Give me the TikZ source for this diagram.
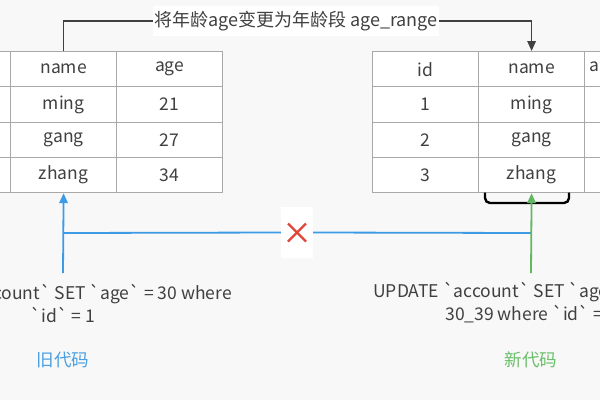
\documentclass[tikz,border=0pt]{standalone}
\usepackage{fontspec}
\setmainfont{Noto Sans CJK SC}[Ligatures=TeXOff]
\usetikzlibrary{arrows.meta}
\definecolor{bgc}{HTML}{F8F8F8}
\definecolor{cellgray}{HTML}{A8A8A8}
\definecolor{txt}{HTML}{404040}
\definecolor{conn}{HTML}{404040}
\definecolor{bl}{HTML}{3D9BE6}
\definecolor{gr}{HTML}{62B862}
\definecolor{blt}{HTML}{4AA0E0}
\definecolor{grt}{HTML}{6ABF6A}
\definecolor{rd}{HTML}{E0463C}
\begin{document}
\begin{tikzpicture}[x=1pt,y=-1pt,
  cell/.style={draw=cellgray, fill=white, line width=1.2pt, minimum width=106pt,
    minimum height=35.25pt, inner sep=0pt, text=txt, anchor=north west,
    font=\fontsize{17.5}{20}\selectfont},
  plain/.style={text=txt, inner sep=0pt, font=\fontsize{17.5}{20}\selectfont},
  code/.style={text=txt, inner sep=0pt, align=center, font=\fontsize{17.5}{23}\selectfont},
  titlebox/.style={fill=white, text=txt, inner xsep=1pt, minimum height=30pt,
    font=\fontsize{18}{20}\selectfont},
  darkline/.style={draw=conn, line width=1.6pt},
  blueline/.style={draw=bl, line width=1.8pt},
  greenline/.style={draw=gr, line width=1.8pt},
  tip/.style={-{Triangle[length=10pt,width=8.5pt]}},
  crossbox/.style={fill=white, minimum width=32pt, minimum height=51pt, inner sep=0pt,
    path picture={
      \draw[rd, line width=2.4pt]
        ([xshift=-9pt,yshift=9pt]path picture bounding box.center) --
        ([xshift=9pt,yshift=-9pt]path picture bounding box.center);
      \draw[rd, line width=2.4pt]
        ([xshift=-9pt,yshift=-9pt]path picture bounding box.center) --
        ([xshift=9pt,yshift=9pt]path picture bounding box.center);}},
  bracket/.style={draw=black, line width=2.4pt, rounded corners=5pt}
]
\fill[bgc] (0,0) rectangle (600,400);
\clip (0,0) rectangle (600,400);

% left table
\foreach \r/\a/\b in {0/name/age,1/ming/21,2/gang/27,3/zhang/34} {
  \node[cell] (L0-\r) at (-96,{51+35.25*\r}) {};
  \node[cell] (L1-\r) at (10,{51+35.25*\r}) {\a};
  \node[cell] (L2-\r) at (116,{51+35.25*\r}) {\b};
}
% right table
\foreach \r/\a/\b in {0/id/name,1/1/ming,2/2/gang,3/3/zhang} {
  \node[cell] (R0-\r) at (372,{51+35.25*\r}) {\a};
  \node[cell] (R1-\r) at (478,{51+35.25*\r}) {\b};
  \node[cell] (R2-\r) at (584,{51+35.25*\r}) {};
}
\node[plain, anchor=west] (hdr) at (589,68.6) {age\_range};

% title connector
\node[titlebox] (title) at (296,21) {将年龄age变更为年龄段 age\_range};
\draw[darkline] (L1-0.north) |- (title.west);
\draw[darkline, tip] (title.east) -| (R1-0.north);

% bracket under new name column
\draw[bracket] (485,192.5) -- (485,203) -- (569,203) -- (569,192.5);

% code texts
\node[code] (oldcode) at (63,303) {UPDATE `account` SET `age` = 30 where\\`id` = 1};
\node[code] (newcode) at (531,303) {UPDATE `account` SET `age\_range` =\\30\_39 where `id` = 1};
\node[plain, text=blt] (oldlbl) at (63,360) {旧代码};
\node[plain, text=grt] (newlbl) at (531,360) {新代码};

% connectors
\coordinate (bstart) at (63,273);
\coordinate (gstart) at (531,273);
\coordinate (bj) at (63,233);
\coordinate (gj) at (531,233);
\node[crossbox] (cross) at (297,232.5) {};
\draw[blueline] (bj) -- (cross.west);
\draw[blueline] (cross.east) -- (gj);
\draw[blueline, tip] (bstart) -- (L1-3.south);
\draw[greenline, tip] (gstart) -- (R1-3.south);
\end{tikzpicture}
\end{document}
